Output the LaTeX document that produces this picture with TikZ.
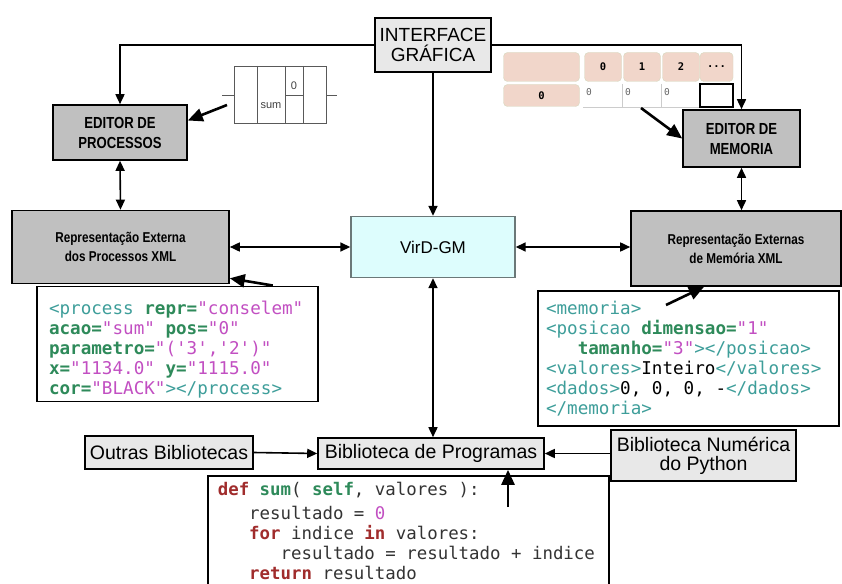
\documentclass[tikz,border=0pt]{standalone}
\usepackage{fontspec}
\setmainfont{Liberation Sans}
\setmonofont{DejaVu Sans Mono}
\newfontfamily\narrowfont[FakeStretch=0.82]{Liberation Sans}
\usepackage{tikz}
\usetikzlibrary{arrows.meta}

\definecolor{boxgray}{HTML}{C0C0C0}
\definecolor{boxlight}{HTML}{E8E8E8}
\definecolor{virdcyan}{HTML}{DDFDFD}
\definecolor{virdline}{HTML}{6B7878}
\definecolor{cellpink}{HTML}{F1D6CA}
\definecolor{cellline}{HTML}{D5D9BE}
\definecolor{xmltag}{HTML}{3E9E9A}
\definecolor{xmlatt}{HTML}{2E8A5A}
\definecolor{xmlval}{HTML}{C24FC2}
\definecolor{pykey}{HTML}{A02C2C}
\definecolor{pytext}{HTML}{333333}

\newcommand{\xtag}[1]{\textcolor{xmltag}{#1}}
\newcommand{\xatt}[1]{\textcolor{xmlatt}{\bfseries #1}}
\newcommand{\xval}[1]{\textcolor{xmlval}{#1}}
\newcommand{\pykw}[1]{\textcolor{pykey}{\bfseries #1}}
\newcommand{\monospacing}{\spaceskip 0.602em\relax\xspaceskip 0.602em\relax}

\begin{document}
\begin{tikzpicture}[x=1pt,y=-1pt,
  box/.style={draw=black,line width=1.6pt,inner sep=0pt,align=center},
  graybox/.style={box,fill=boxgray,font=\narrowfont\bfseries\fontsize{16}{20}\selectfont},
  xmlbox/.style={box,fill=boxgray,font=\narrowfont\bfseries\fontsize{14.3}{19}\selectfont},
  libbox/.style={box,fill=boxlight,font=\fontsize{19.5}{19}\selectfont},
  codebox/.style={draw=black,line width=1.6pt,fill=white,align=left,font=\ttfamily\fontsize{17.6}{20}\selectfont},
  cell/.style={draw=cellline,fill=cellpink,rounded corners=4pt,inner sep=0pt,font=\ttfamily\bfseries\fontsize{10.5}{10.5}\selectfont},
  link/.style={line width=1.6pt,-{Triangle[length=10pt,width=9pt]}},
  dlink/.style={line width=1.6pt,{Triangle[length=10pt,width=9pt]}-{Triangle[length=10pt,width=9pt]}},
  biglink/.style={line width=2.6pt,-{Triangle[length=15pt,width=13pt]}}]
\useasboundingbox (0,0) rectangle (842,583);
\clip (0,0) rectangle (842,583);
\fill[white] (0,0) rectangle (842,583);
% Boxes
\node at (433,45) [libbox,minimum width=116pt,minimum height=54pt,font=\fontsize{19}{20}\selectfont] (gui) {INTERFACE\\GRÁFICA};
\node at (120,132.5) [graybox,minimum width=134pt,minimum height=55pt] (edproc) {EDITOR DE\\PROCESSOS};
\node at (741.5,138.5) [graybox,minimum width=117pt,minimum height=57pt] (edmem) {EDITOR DE\\MEMORIA};
\node at (120.5,247) [xmlbox,minimum width=217pt,minimum height=73pt] (repproc) {Representação Externa\\dos Processos XML};
\node at (433,247) [draw=virdline,line width=1.4pt,fill=virdcyan,minimum width=164pt,minimum height=61pt,font=\fontsize{17}{17}\selectfont] (virtd) {VirD-GM};
\node at (736,248.5) [xmlbox,minimum width=210pt,minimum height=75pt] (repmem) {Representação Externas\\de Memória XML};
\node at (431,453.5) [libbox,minimum width=226pt,minimum height=31pt] (bibprog) {Biblioteca de Programas};
\node at (169,452.5) [libbox,minimum width=168pt,minimum height=33pt] (outras) {Outras Bibliotecas};
\node at (703.5,455.5) [libbox,minimum width=185pt,minimum height=51pt] (bibnum) {Biblioteca Numérica\\do Python};
% Code Boxes
\node at (177.5,344) [codebox,minimum width=281pt,minimum height=112pt,text width=257pt,inner xsep=12pt] (procxml) {%
\monospacing\rule{0pt}{25pt}\xtag{<process} \xatt{repr=}\xval{"conselem"}\\
\xatt{acao=}\xval{"sum"} \xatt{pos=}\xval{"0"}\\
\xatt{parametro=}\xval{"('3','2')"}\\
\xatt{x=}\xval{"1134.0"} \xatt{y=}\xval{"1115.0"}\\
\xatt{cor=}\xval{"BLACK"}\xtag{></process>}};
\node at (688.5,358.5) [codebox,minimum width=301pt,minimum height=135pt,text width=285pt,inner xsep=8pt] (memxml) {%
\monospacing\xtag{<memoria>}\\
\xtag{<posicao} \xatt{dimensao=}\xval{"1"}\\
\phantom{xxx}\xatt{tamanho=}\xval{"3"}\xtag{></posicao>}\\
\xtag{<valores>}Inteiro\xtag{</valores>}\\
\xtag{<dados>}0, 0, 0, -\xtag{</dados>}\\
\xtag{</memoria>}};
\node at (207,475) [codebox,anchor=north west,text width=381pt,inner xsep=10pt,inner ysep=6pt,text=pytext,font=\ttfamily\fontsize{17.4}{20}\selectfont] (pycode) {%
\monospacing\pykw{def} \xatt{sum}( \xatt{self}, valores ):\\[4pt]
\phantom{xxx}resultado = \xval{0}\\
\phantom{xxx}\pykw{for} indice \pykw{in} valores:\\
\phantom{xxxxxx}resultado = resultado + indice\\
\phantom{xxx}\pykw{return} resultado\\
~};
% Process Sketch
\draw[black!65,line width=0.8pt] (234,66) rectangle (326,123);
\draw[black!65,line width=0.8pt] (257,66) -- (257,123) (285,66) -- (285,123) (303,66) -- (303,123) (285,95) -- (303,95);
\draw[black!65,line width=0.8pt] (222,95) -- (234,95) (326,95) -- (337,95);
\node at (294,86) [font=\fontsize{11}{11}\selectfont,text=black!75] (sumzero) {0};
\node at (271,106) [font=\fontsize{11}{11}\selectfont,text=black!75] (sumname) {sum};
\coordinate (sumtail) at (227,105);
% Memory Table
\node at (541.5,67) [cell,minimum width=76pt,minimum height=29pt] (corner) {};
\foreach \i in {0,1,2}
  \node at (603+39*\i,67) [cell,minimum width=37pt,minimum height=29pt] (col\i) {\i};
\node at (716.5,67) [cell,minimum width=33pt,minimum height=29pt] (coldots) {...};
\node at (541.5,95.5) [cell,minimum width=76pt,minimum height=22pt] (rowzero) {0};
\draw[black!20] (583,107) -- (700,107);
\foreach \i in {0,1,2} {
  \draw[black!20] (622+39*\i,84) -- (622+39*\i,107);
  \node at (589+39*\i,92) [font=\ttfamily\fontsize{9.5}{9.5}\selectfont,text=black!60] (val\i) {0};
}
\node at (716.5,95.5) [draw=black,line width=1.2pt,minimum width=33pt,minimum height=23pt,inner sep=0pt] (newcell) {};
\coordinate (tabletail) at (641,108);
% Free Ends
\coordinate (memtail) at (666,305);
\coordinate (pytail) at (508,507);
% Connections
\draw[link] (gui.west) -| (edproc.north);
\draw[link] (gui.east) -| (edmem.north);
\draw[link] (gui.south) -- (virtd.north);
\draw[dlink] (edproc.south) -- (repproc.north);
\draw[dlink] (repproc.east) -- (virtd.west);
\draw[dlink] (virtd.east) -- (virtd.east -| repmem.west);
\draw[dlink] (edmem.south) -- (edmem.south |- repmem.north);
\draw[dlink] (virtd.south) -- (virtd.south |- bibprog.north);
\draw[link] (outras.east) -- (bibprog.west);
\draw[link] (bibprog.east -| bibnum.west) -- (bibprog.east);
% Pointers
\draw[biglink] (sumtail) -- ([yshift=12]edproc.east);
\draw[biglink] (tabletail) -- (edmem.west);
\draw[biglink] ([xshift=-46]procxml.north east) -- ([yshift=6]repproc.south east);
\draw[biglink] (memtail) -- ([xshift=-32]repmem.south);
\draw[biglink] (pytail) -- ([xshift=77]bibprog.south);
\end{tikzpicture}
\end{document}
